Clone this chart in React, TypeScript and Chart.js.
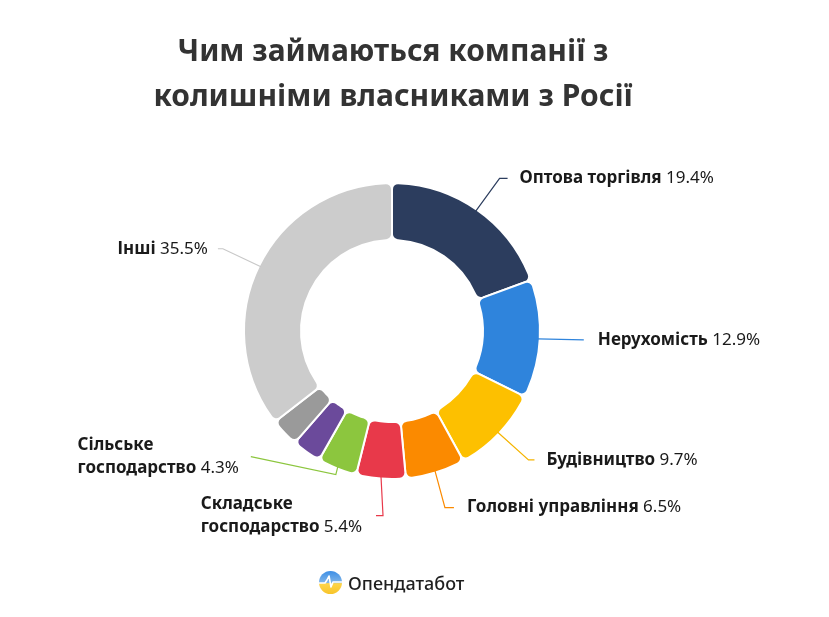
import React, { useEffect, useRef } from "react";
import { Chart, registerables } from "chart.js";

Chart.register(...registerables);

// ---- data ----
const categories: string[][] = [
  ["Оптова торгівля"],
  ["Нерухомість"],
  ["Будівництво"],
  ["Головні управління"],
  ["Складське", "господарство"],
  ["Сільське", "господарство"],
  [],
  [],
  ["Інші"],
];
const values: number[] = [19.4, 12.9, 9.7, 6.5, 5.4, 4.3, 3.2, 3.1, 35.5];
const colors: string[] = [
  "#2c3d5e",
  "#2f84dc",
  "#fdc000",
  "#fb8a00",
  "#e8394a",
  "#8cc63e",
  "#6b4a9b",
  "#9a9a9a",
  "#cccccc",
];
const lineColors: string[] = [
  "#2c3d5e",
  "#2f84dc",
  "#f5b400",
  "#fb8a00",
  "#e8394a",
  "#8cc63e",
  "#6b4a9b",
  "#9a9a9a",
  "#c8c8c8",
];

const TITLE_LINES = ["Чим займаються компанії з", "колишніми власниками з Росії"];

// leader-line layout (style only): offsets of elbow and end point, text side
type Lay = { p1: [number, number]; p2: [number, number]; side: "left" | "right"; gap: number } | null;
const LABEL_LAYOUT: Lay[] = [
  { p1: [24, -33], p2: [8, 0], side: "right", gap: 12 },
  { p1: [46, 1], p2: [0, 0], side: "right", gap: 14 },
  { p1: [31, 28], p2: [6, 0], side: "right", gap: 12 },
  { p1: [10, 37], p2: [9, 0], side: "right", gap: 13 },
  { p1: [2, 39], p2: [-7, 0], side: "left", gap: 14 },
  { p1: [-2, 8], p2: [-85, -18], side: "left", gap: 12 },
  null,
  null,
  { p1: [-38, -18], p2: [-5, 0], side: "left", gap: 10 },
];

const FONT = '"Noto Sans", "Open Sans", sans-serif';

const labelPlugin = {
  id: "leaderLabels",
  afterDatasetsDraw(chart: any) {
    const ctx: CanvasRenderingContext2D = chart.ctx;
    const meta = chart.getDatasetMeta(0);
    meta.data.forEach((arc: any, i: number) => {
      const lay = LABEL_LAYOUT[i];
      if (!lay) return;
      const { x, y, startAngle, endAngle, outerRadius } = arc.getProps(
        ["x", "y", "startAngle", "endAngle", "outerRadius"],
        true
      );
      const mid = (startAngle + endAngle) / 2;
      const ax = x + Math.cos(mid) * (outerRadius - 2);
      const ay = y + Math.sin(mid) * (outerRadius - 2);
      const ex = ax + lay.p1[0];
      const ey = ay + lay.p1[1];
      const fx = ex + lay.p2[0];
      const fy = ey + lay.p2[1];
      ctx.save();
      ctx.strokeStyle = lineColors[i];
      ctx.lineWidth = 1.2;
      ctx.beginPath();
      ctx.moveTo(ax, ay);
      ctx.lineTo(ex, ey);
      ctx.lineTo(fx, fy);
      ctx.stroke();

      const names = categories[i];
      const pct = " " + values[i] + "%";
      const boldFont = `bold 17px ${FONT}`;
      const regFont = `17px ${FONT}`;
      const widths = names.map((n, k) => {
        ctx.font = boldFont;
        let w = ctx.measureText(n).width;
        if (k === names.length - 1) {
          ctx.font = regFont;
          w += ctx.measureText(pct).width;
        }
        return w;
      });
      const blockW = Math.max(...widths);
      const lineH = 23;
      const left = lay.side === "right" ? fx + lay.gap : fx - lay.gap - blockW;
      const firstY = fy - ((names.length - 1) * lineH) / 2;
      ctx.textBaseline = "middle";
      ctx.textAlign = "left";
      ctx.fillStyle = "#1a1a1a";
      names.forEach((n, k) => {
        const ly = firstY + k * lineH;
        ctx.font = boldFont;
        ctx.fillText(n, left, ly);
        if (k === names.length - 1) {
          const bw = ctx.measureText(n).width;
          ctx.font = regFont;
          ctx.fillText(pct, left + bw, ly);
        }
      });
      ctx.restore();
    });
  },
};

function Logo() {
  return (
    <div
      style={{
        position: "absolute",
        left: 318,
        top: 570,
        display: "flex",
        alignItems: "center",
        gap: 5,
      }}
    >
      <svg width="25" height="25" viewBox="0 0 25 25">
        <defs>
          <linearGradient id="lg" x1="0" y1="0" x2="0" y2="1">
            <stop offset="0" stopColor="#3d8fe6" />
            <stop offset="0.5" stopColor="#7fb4e8" />
            <stop offset="0.55" stopColor="#ffd54a" />
            <stop offset="1" stopColor="#f7c42a" />
          </linearGradient>
        </defs>
        <circle cx="12.5" cy="12.5" r="11.5" fill="url(#lg)" />
        <polyline
          points="1,13 7,13 9,10 11,6 13,17 15,12 24,12"
          fill="none"
          stroke="#ffffff"
          strokeWidth="1.6"
          strokeLinejoin="round"
        />
      </svg>
      <span style={{ font: `500 18px ${FONT}`, color: "#1f1f1f" }}>Опендатабот</span>
    </div>
  );
}

export default function App() {
  const ref = useRef<HTMLCanvasElement | null>(null);
  useEffect(() => {
    if (!ref.current) return;
    const chart = new Chart(ref.current, {
      type: "doughnut",
      data: {
        labels: categories.map((c) => c.join(" ")),
        datasets: [
          {
            data: values,
            backgroundColor: colors,
            borderColor: "#ffffff",
            borderWidth: 2,
            borderRadius: 6,
          },
        ],
      },
      options: {
        animation: false,
        responsive: false,
        radius: 148,
        cutout: "61.5%",
        layout: { padding: { left: 0, right: 45, top: 45, bottom: 0 } },
        plugins: {
          legend: { display: false },
          tooltip: { enabled: false },
          title: { display: false },
        },
      } as any,
      plugins: [labelPlugin],
    });
    return () => chart.destroy();
  }, []);

  return (
    <div
      style={{
        position: "fixed",
        left: 0,
        top: 0,
        width: 829,
        height: 617,
        background: "#ffffff",
      }}
    >
      <canvas ref={ref} width={829} height={617} style={{ position: "absolute", left: 0, top: 0 }} />
      <div
        style={{
          position: "absolute",
          left: 0,
          width: 786,
          top: 27,
          textAlign: "center",
          font: `bold 30px ${FONT}`,
          lineHeight: "45px",
          color: "#333333",
        }}
      >
        {TITLE_LINES.map((t) => (
          <div key={t}>{t}</div>
        ))}
      </div>
      <Logo />
    </div>
  );
}
